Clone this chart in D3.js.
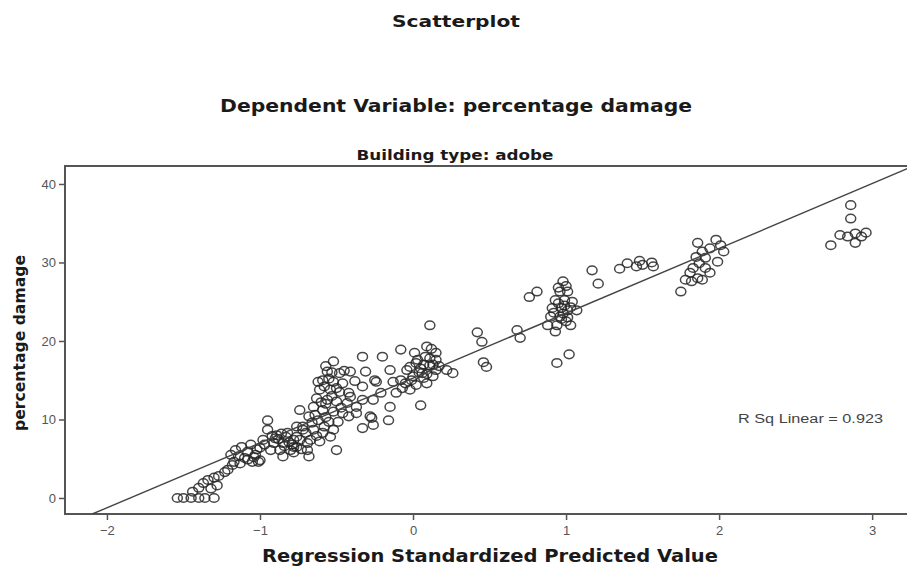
<!DOCTYPE html>
<html>
<head>
<meta charset="utf-8">
<script src="https://cdn.jsdelivr.net/npm/d3@7"></script>
<style>
  body { margin: 0; background: #fff; }
  text { font-family: "Liberation Sans", Arial, sans-serif; }
  .ttl { font-family: "DejaVu Sans", Verdana, sans-serif; font-weight: bold; fill: #1a1a1a; }
</style>
</head>
<body>
<div id="chart"></div>
<script>
var width = 907;
var height = 571;

// values: [standardized predicted value, percentage damage]
var adobePoints = [
    [-1.54,0],[-1.50,0],[-1.45,0],[-1.40,0],[-1.36,0],[-1.30,0],
    [-1.40,1.3],[-1.37,1.9],[-1.34,2.3],[-1.30,2.6],[-1.27,2.8],[-1.23,3.3],[-1.21,3.6],[-1.44,0.8],[-1.32,1.2],[-1.28,1.6],
    [-1.16,6.1],[-1.12,6.5],[-1.08,5.9],[-1.03,5.5],[-1.14,5.3],[-1.10,5.1],[-1.05,4.6],[-1.17,4.6],[-1.01,4.6],[-1.06,6.8],
    [-1.00,4.8],[-1.19,5.5],[-1.18,4.2],[-1.13,4.4],[-1.08,4.9],[-1.04,5.2],[-1.02,6.2],
    [-0.95,9.9],[-0.95,8.7],[-0.89,8.0],[-0.82,8.3],[-0.78,7.4],[-0.85,7.0],[-0.91,7.0],[-0.98,7.4],[-0.87,6.1],[-0.80,6.1],
    [-0.76,6.5],[-0.93,6.1],[-1.00,6.4],[-0.85,5.3],[-0.68,5.3],[-0.74,7.4],[-0.69,7.0],[-0.72,8.7],[-0.76,9.1],[-0.88,7.5],
    [-0.84,6.6],[-0.90,7.6],[-0.81,7.1],[-0.83,7.8],[-0.79,6.8],[-0.86,8.2],[-0.92,7.9],[-0.97,6.8],[-0.78,5.8],[-0.73,6.2],
    [-0.52,17.4],[-0.56,16.1],[-0.48,15.9],[-0.59,15.0],[-0.52,14.8],[-0.46,14.6],[-0.61,13.8],[-0.54,13.8],[-0.48,13.5],
    [-0.41,12.9],[-0.63,12.7],[-0.56,12.5],[-0.50,12.3],[-0.43,12.1],[-0.37,11.6],[-0.65,11.6],[-0.59,11.2],[-0.52,11.0],
    [-0.46,10.8],[-0.74,11.2],[-0.68,10.4],[-0.62,9.9],[-0.55,9.7],[-0.49,9.7],[-0.42,10.4],[-0.72,9.1],[-0.65,8.7],
    [-0.59,8.3],[-0.52,8.7],[-0.76,7.8],[-0.67,7.4],[-0.61,7.2],[-0.78,6.5],[-0.69,6.1],[-0.54,7.8],[-0.50,6.1],
    [-0.57,16.8],[-0.53,16.0],[-0.58,14.2],[-0.55,15.2],[-0.50,14.0],[-0.57,12.0],[-0.53,13.0],[-0.60,12.2],[-0.47,11.5],
    [-0.64,10.6],[-0.57,10.3],[-0.45,16.2],[-0.62,14.8],[-0.66,9.6],[-0.70,8.3],[-0.58,9.1],[-0.63,7.9],
    [-0.33,18.0],[-0.20,18.0],[-0.15,16.3],[-0.24,14.8],[-0.33,14.2],[-0.41,16.1],[-0.42,13.4],[-0.26,12.5],[-0.15,11.6],
    [-0.28,10.4],[-0.26,9.3],[-0.33,8.9],[-0.16,9.9],[-0.37,10.8],[-0.33,12.5],[-0.21,13.4],[-0.11,13.4],[-0.13,14.8],
    [-0.31,16.1],[-0.25,15.0],[-0.27,10.2],[-0.08,15.0],[-0.38,14.9],
    [0.11,22.0],[-0.08,18.9],[0.01,18.5],[0.09,19.3],[0.15,18.5],[-0.02,16.7],[0.05,16.5],[0.11,16.9],[0.15,16.3],
    [0.00,15.5],[0.07,15.3],[0.13,15.5],[-0.05,14.6],[0.02,14.4],[0.09,14.6],[-0.02,13.8],[-0.07,14.0],[0.06,15.9],
    [0.11,17.8],[0.03,17.6],[0.15,17.6],[-0.04,16.3],[0.05,11.8],[0.08,18.0],[0.12,19.0],[0.04,16.0],[0.09,15.8],
    [-0.01,15.0],[0.13,17.0],[0.02,17.2],[0.07,17.0],[0.17,16.8],
    [0.42,21.1],[0.45,19.9],[0.46,17.3],[0.48,16.7],[0.26,15.9],[0.22,16.3],
    [0.68,21.4],[0.70,20.4],[0.76,25.6],[0.81,26.3],[0.98,27.6],[0.96,26.3],[1.01,26.3],[0.93,25.2],[0.99,25.2],
    [1.04,25.0],[0.91,24.2],[0.97,24.2],[1.01,23.9],[1.07,23.9],[0.90,23.1],[0.96,23.1],[1.01,23.0],[0.88,22.0],
    [0.94,22.0],[1.03,22.0],[0.93,21.2],[0.94,17.2],[1.02,18.3],[0.95,24.8],[0.99,24.5],[1.00,22.5],[0.97,22.8],
    [0.92,23.6],[1.03,24.3],[0.98,23.5],[0.95,26.8],[1.00,27.0],
    [1.17,29.0],[1.21,27.3],[1.35,29.2],[1.40,29.9],[1.46,29.5],[1.50,29.7],[1.56,30.0],[1.48,30.2],[1.57,29.5],
    [1.86,32.5],[1.98,32.9],[2.03,31.4],[2.01,32.2],[1.89,31.4],[1.94,31.8],[1.85,30.7],[1.91,30.6],[1.99,30.1],
    [1.87,29.9],[1.83,29.3],[1.91,29.3],[1.94,28.7],[1.81,28.7],[1.86,28.0],[1.78,27.8],[1.82,27.6],[1.89,27.8],[1.75,26.3],
    [2.86,37.3],[2.86,35.6],[2.79,33.5],[2.84,33.3],[2.89,33.7],[2.96,33.8],[2.89,32.5],[2.73,32.2],[2.93,33.3]
];

var xTicks = [-2, -1, 0, 1, 2, 3];
var yTicks = [0, 10, 20, 30, 40];

// fit line as drawn in the picture
var fitIntercept = 15.27;
var fitSlope = 8.26;
var rSquareLabel = 'R Sq Linear = 0.923';

var plotLeft = 65, plotRight = 915, plotTop = 166, plotBottom = 514;

var x = d3.scaleLinear().domain([-2.274, 3.28]).range([plotLeft, plotRight]);
var y = d3.scaleLinear().domain([-2.04, 42.29]).range([plotBottom, plotTop]);

var svg = d3.select('#chart').append('svg')
    .attr('width', width)
    .attr('height', height);

function title(txt, cx, cy, size, len) {
    return svg.append('text')
        .attr('class', 'ttl')
        .attr('x', cx).attr('y', cy)
        .attr('text-anchor', 'middle')
        .attr('textLength', len)
        .attr('lengthAdjust', 'spacingAndGlyphs')
        .style('font-size', size + 'px')
        .text(txt);
}

title('Scatterplot', 456, 27, 15, 128);
title('Dependent Variable: percentage damage', 456, 112, 18, 472);
title('Building type: adobe', 455, 160, 13.5, 197);

// frame
svg.append('rect')
    .attr('x', plotLeft).attr('y', plotTop)
    .attr('width', plotRight - plotLeft).attr('height', plotBottom - plotTop)
    .attr('fill', '#fff')
    .attr('stroke', '#555')
    .attr('stroke-width', 2);

svg.append('clipPath').attr('id', 'plotClip')
    .append('rect')
    .attr('x', plotLeft).attr('y', plotTop)
    .attr('width', plotRight - plotLeft).attr('height', plotBottom - plotTop);

// axes
var xAxis = svg.append('g')
    .attr('transform', 'translate(0,' + plotBottom + ')')
    .call(d3.axisBottom(x).tickValues(xTicks).tickSize(6).tickPadding(6).tickFormat(d3.format('d')));

var yAxis = svg.append('g')
    .attr('transform', 'translate(' + plotLeft + ',0)')
    .call(d3.axisLeft(y).tickValues(yTicks).tickSize(6).tickPadding(3).tickFormat(d3.format('d')));

[xAxis, yAxis].forEach(function (ax) {
    ax.select('.domain').remove();
    ax.selectAll('line').attr('stroke', '#555').attr('stroke-width', 1.5);
    ax.selectAll('text')
        .attr('fill', '#555')
        .style('font-size', '13px')
        .style('font-family', '"Liberation Sans", Arial, sans-serif');
});

// points
svg.append('g')
    .attr('clip-path', 'url(#plotClip)')
    .selectAll('ellipse')
    .data(adobePoints)
    .enter().append('ellipse')
    .attr('cx', function (d) { return x(d[0]); })
    .attr('cy', function (d) { return y(d[1]); })
    .attr('rx', 5)
    .attr('ry', 4.3)
    .attr('fill', 'none')
    .attr('stroke', '#262626')
    .attr('stroke-opacity', 0.85)
    .attr('stroke-width', 1.5);

// fit line
var xStart = (y.domain()[0] - fitIntercept) / fitSlope;
var xEnd = x.domain()[1];
svg.append('line')
    .attr('clip-path', 'url(#plotClip)')
    .attr('x1', x(xStart)).attr('y1', y(fitIntercept + fitSlope * xStart))
    .attr('x2', x(xEnd)).attr('y2', y(fitIntercept + fitSlope * xEnd))
    .attr('stroke', '#444')
    .attr('stroke-width', 1.4);

svg.append('text')
    .attr('x', 738).attr('y', 423)
    .attr('textLength', 145)
    .attr('lengthAdjust', 'spacingAndGlyphs')
    .style('font-size', '12px')
    .attr('fill', '#444')
    .text(rSquareLabel);

// axis titles
title('Regression Standardized Predicted Value', 490, 562, 17, 456);

svg.append('text')
    .attr('class', 'ttl')
    .attr('transform', 'translate(25,343) rotate(-90)')
    .attr('text-anchor', 'middle')
    .attr('textLength', 176)
    .attr('lengthAdjust', 'spacingAndGlyphs')
    .style('font-size', '15px')
    .text('percentage damage');
</script>
</body>
</html>
